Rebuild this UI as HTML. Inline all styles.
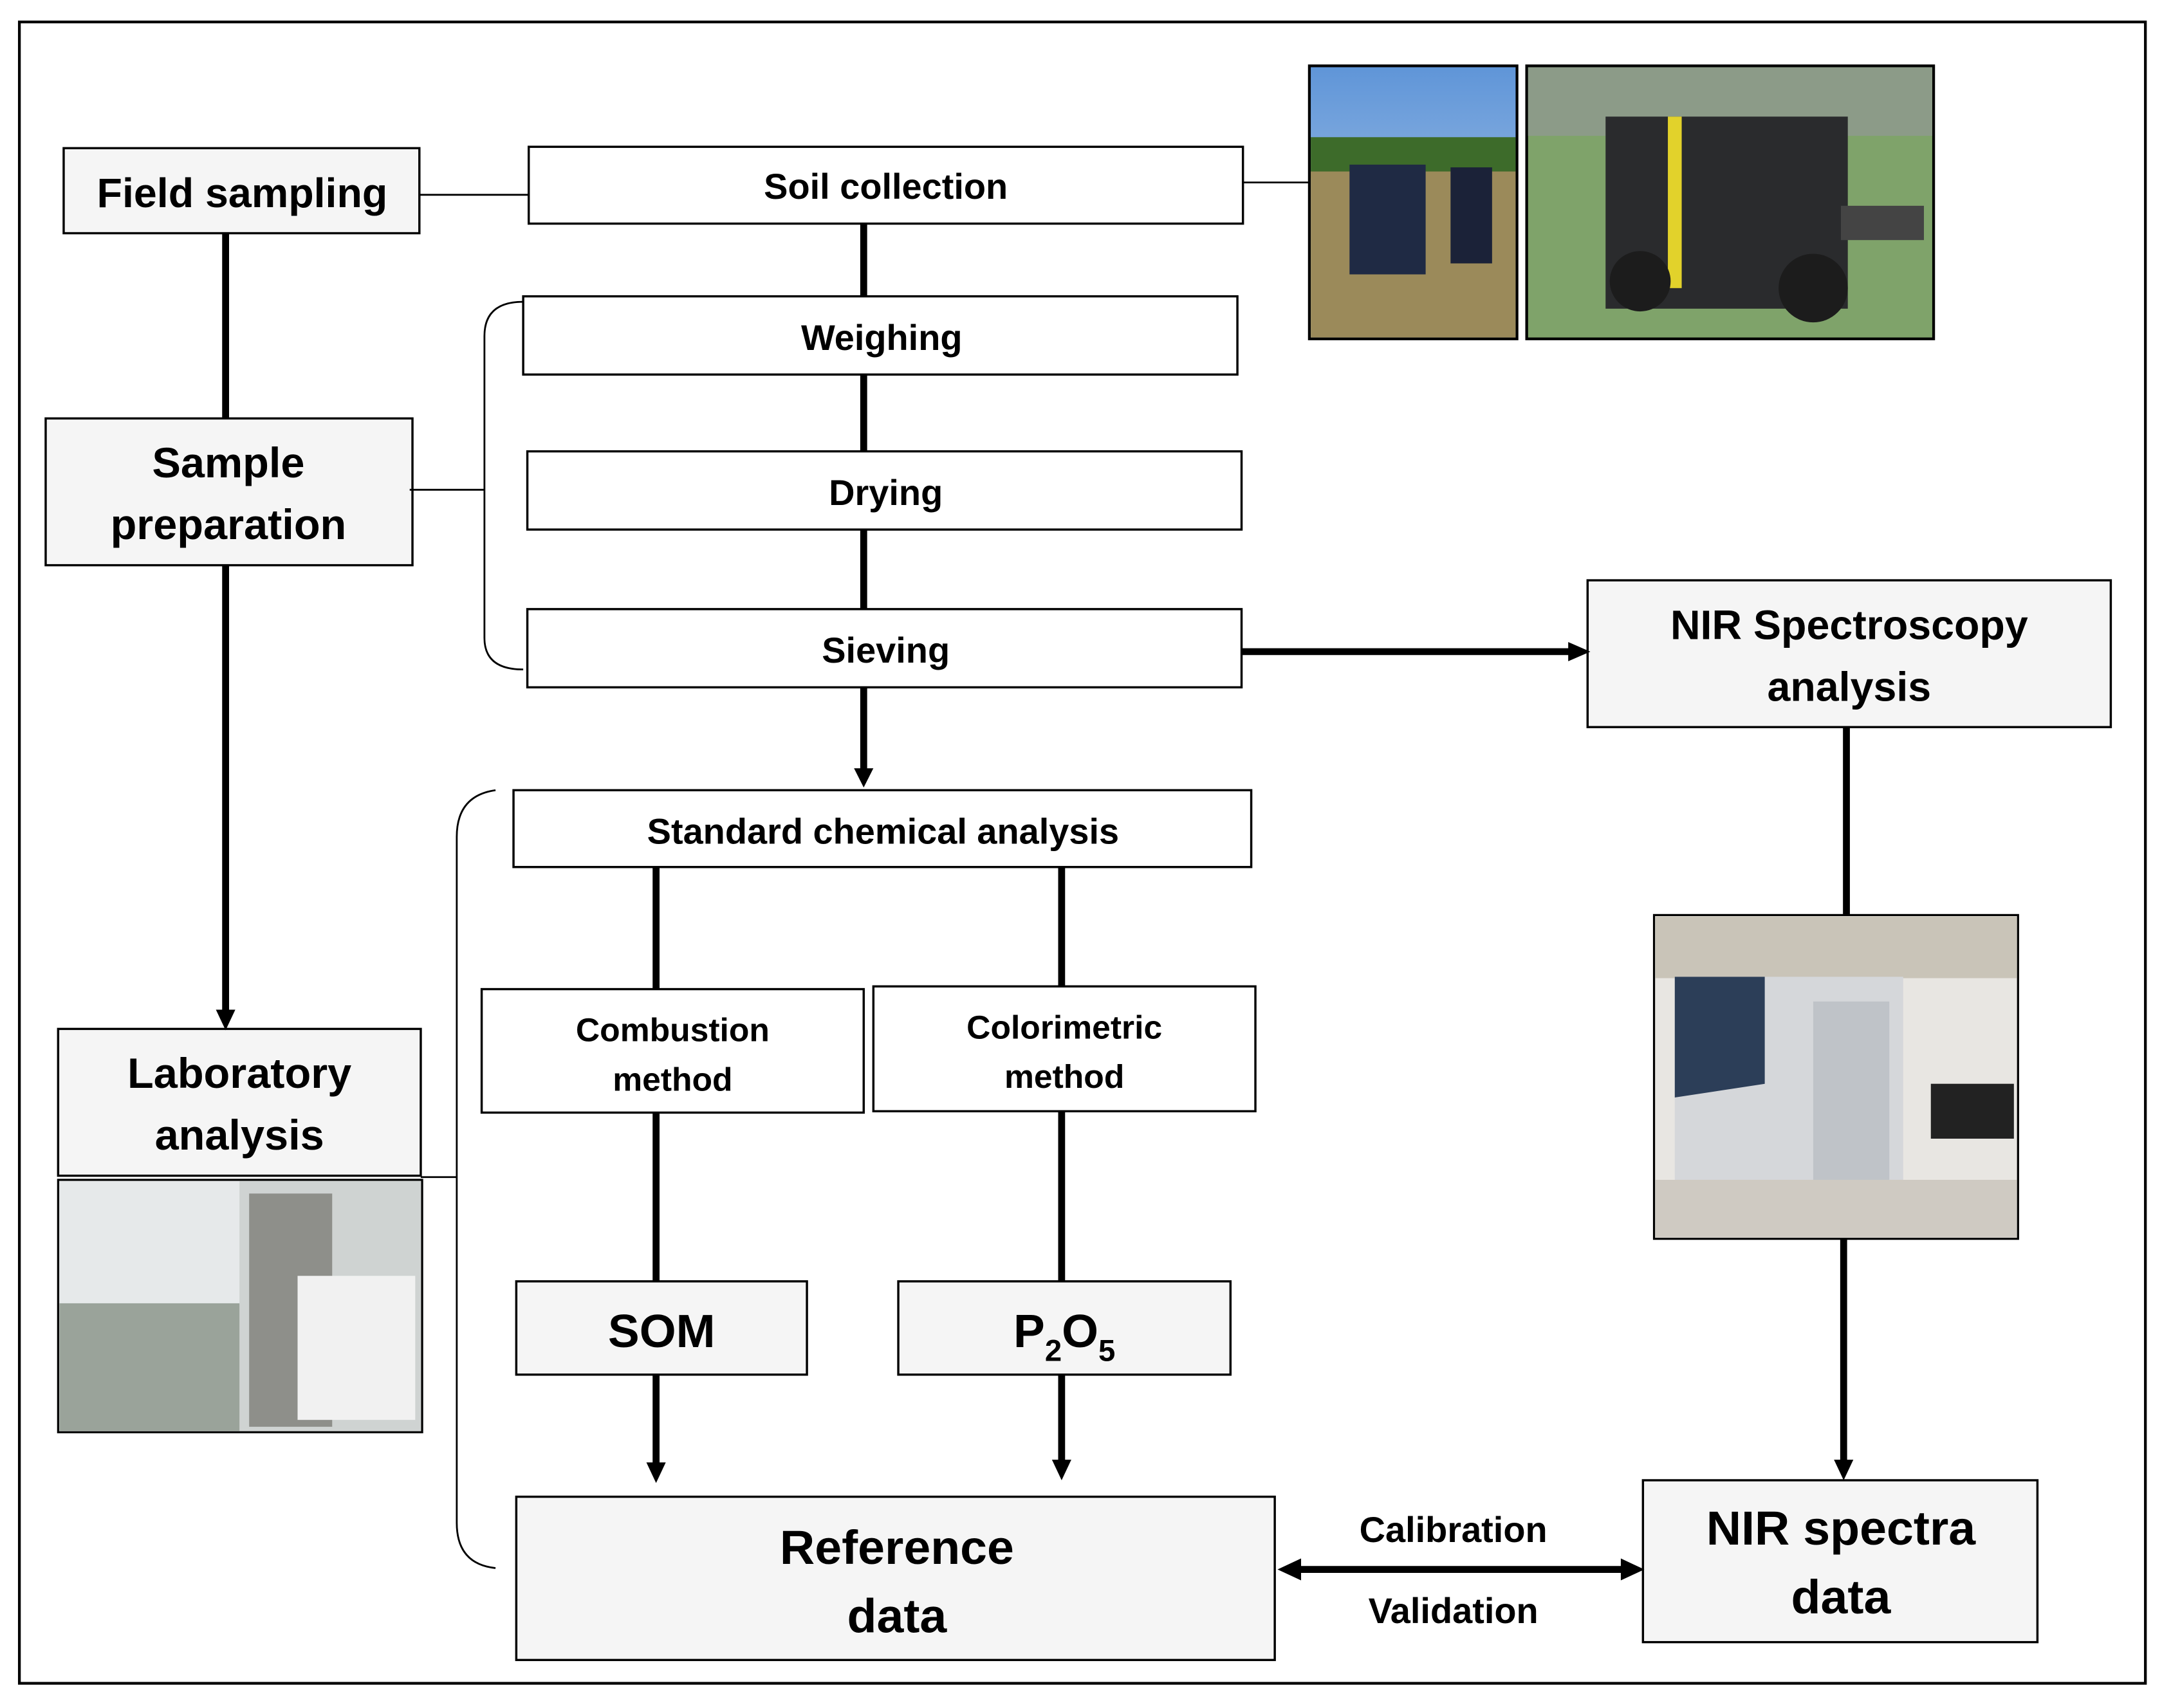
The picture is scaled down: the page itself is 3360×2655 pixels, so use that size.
<!DOCTYPE html>
<html><head><meta charset="utf-8"><style>
html,body{margin:0;padding:0;background:#fff;}
svg{display:block;}
text{font-family:"Liberation Sans",sans-serif;font-weight:bold;fill:#000;text-anchor:middle;}
</style></head><body>
<svg width="3360" height="2655" viewBox="0 0 1562 1245" preserveAspectRatio="none" xmlns="http://www.w3.org/2000/svg">
<defs>
<marker id="ah" markerWidth="14" markerHeight="14" refX="13" refY="7" orient="auto" markerUnits="userSpaceOnUse"><path d="M0,0 L14,7 L0,14 z" fill="#000"/></marker>
<marker id="ah2" markerWidth="18" markerHeight="16" refX="17" refY="8" orient="auto-start-reverse" markerUnits="userSpaceOnUse"><path d="M0,0 L18,8 L0,16 z" fill="#000"/></marker>
<linearGradient id="sky" x1="0" y1="0" x2="0" y2="1"><stop offset="0" stop-color="#5f95d8"/><stop offset="1" stop-color="#b9d0ea"/></linearGradient>
</defs>
<rect x="14" y="16" width="1536" height="1211" fill="none" stroke="#000" stroke-width="2"/>
<g stroke="#000" stroke-width="1.6">
<rect x="46" y="108" width="257" height="62" fill="#f5f5f5"/>
<rect x="382" y="107" width="516" height="56" fill="#fff"/>
<rect x="378" y="216" width="516" height="57" fill="#fff"/>
<rect x="381" y="329" width="516" height="57" fill="#fff"/>
<rect x="381" y="444" width="516" height="57" fill="#fff"/>
<rect x="33" y="305" width="265" height="107" fill="#f5f5f5"/>
<rect x="42" y="750" width="262" height="107" fill="#f5f5f5"/>
<rect x="1147" y="423" width="378" height="107" fill="#f5f5f5"/>
<rect x="371" y="576" width="533" height="56" fill="#fff"/>
<rect x="348" y="721" width="276" height="90" fill="#fff"/>
<rect x="631" y="719" width="276" height="91" fill="#fff"/>
<rect x="373" y="934" width="210" height="68" fill="#f5f5f5"/>
<rect x="649" y="934" width="240" height="68" fill="#f5f5f5"/>
<rect x="373" y="1091" width="548" height="119" fill="#f5f5f5"/>
<rect x="1187" y="1079" width="285" height="118" fill="#f5f5f5"/>
</g>
<g stroke="#000" stroke-width="1.3" fill="none">
<line x1="303" y1="142" x2="382" y2="142"/>
<line x1="898" y1="133" x2="946" y2="133"/>
<line x1="296" y1="357" x2="350" y2="357"/>
<path d="M378,220 Q350,220 350,245 L350,465 Q350,488 378,488"/>
<line x1="304" y1="858" x2="330" y2="858"/>
<path d="M358,576 Q330,580 330,610 L330,1110 Q330,1140 358,1143"/>
</g>
<g stroke="#000" stroke-width="5" fill="none">
<line x1="624" y1="163" x2="624" y2="216"/>
<line x1="624" y1="273" x2="624" y2="329"/>
<line x1="624" y1="386" x2="624" y2="444"/>
<line x1="624" y1="501" x2="624" y2="566"/>
<line x1="897" y1="475" x2="1135" y2="475"/>
<line x1="163" y1="170" x2="163" y2="305"/>
<line x1="163" y1="412" x2="163" y2="740"/>
<line x1="1334" y1="530" x2="1334" y2="667"/>
<line x1="1332" y1="903" x2="1332" y2="1068"/>
<line x1="474" y1="632" x2="474" y2="721"/>
<line x1="767" y1="632" x2="767" y2="719"/>
<line x1="474" y1="811" x2="474" y2="934"/>
<line x1="767" y1="810" x2="767" y2="934"/>
<line x1="474" y1="1002" x2="474" y2="1068"/>
<line x1="767" y1="1002" x2="767" y2="1066"/>
<line x1="935" y1="1144" x2="1176" y2="1144"/>
</g>
<g fill="#000">
<path d="M617,560 L631,560 L624,574 z"/>
<path d="M1133,468 L1149,475 L1133,482 z"/>
<path d="M156,736 L170,736 L163,751 z"/>
<path d="M1325,1064 L1339,1064 L1332,1079 z"/>
<path d="M467,1066 L481,1066 L474,1081 z"/>
<path d="M760,1064 L774,1064 L767,1079 z"/>
<path d="M923,1144 L940,1136 L940,1152 z"/>
<path d="M1188,1144 L1171,1136 L1171,1152 z"/>
</g>
<g>
<rect x="946" y="48" width="150" height="199" fill="url(#sky)" stroke="#000" stroke-width="2"/>
<rect x="947" y="100" width="148" height="30" fill="#3d6b2a"/>
<rect x="947" y="125" width="148" height="121" fill="#9b8a5a"/>
<rect x="975" y="120" width="55" height="80" fill="#1f2a44"/>
<rect x="1048" y="122" width="30" height="70" fill="#1b2238"/>
<rect x="1103" y="48" width="294" height="199" fill="#7fa36a" stroke="#000" stroke-width="2"/>
<rect x="1104" y="49" width="292" height="50" fill="#8c9b88"/>
<rect x="1160" y="85" width="175" height="140" fill="#2a2b2d"/>
<rect x="1330" y="150" width="60" height="25" fill="#444"/>
<rect x="1205" y="85" width="10" height="125" fill="#e2d22b"/>
<circle cx="1185" cy="205" r="22" fill="#1c1c1c"/>
<circle cx="1310" cy="210" r="25" fill="#1c1c1c"/>
<rect x="1195" y="667" width="263" height="236" fill="#e8e6e2" stroke="#000" stroke-width="1.5"/>
<rect x="1196" y="668" width="261" height="45" fill="#c9c4b8"/>
<rect x="1210" y="712" width="165" height="165" fill="#d5d7da"/>
<path d="M1210,712 L1275,712 L1275,790 L1210,800 z" fill="#2c3e58"/>
<rect x="1310" y="730" width="55" height="130" fill="#bfc3c8"/>
<rect x="1395" y="790" width="60" height="40" fill="#222"/>
<rect x="1196" y="860" width="261" height="42" fill="#cfcac2"/>
<rect x="42" y="860" width="263" height="184" fill="#cfd3d2" stroke="#000" stroke-width="1.5"/>
<rect x="43" y="861" width="130" height="90" fill="#e6e9ea"/>
<rect x="43" y="950" width="130" height="93" fill="#9aa39a"/>
<rect x="180" y="870" width="60" height="170" fill="#8e8f8a"/>
<rect x="215" y="930" width="85" height="105" fill="#f1f1f1"/>
</g>
<text x="175" y="151" font-size="30">Field sampling</text>
<text x="640" y="145" font-size="26">Soil collection</text>
<text x="637" y="255" font-size="26">Weighing</text>
<text x="640" y="368" font-size="26">Drying</text>
<text x="640" y="483" font-size="26">Sieving</text>
<text x="165" y="348" font-size="31">Sample</text>
<text x="165" y="393" font-size="31">preparation</text>
<text x="173" y="793" font-size="31">Laboratory</text>
<text x="173" y="838" font-size="31">analysis</text>
<text x="1336" y="466" font-size="30">NIR Spectroscopy</text>
<text x="1336" y="511" font-size="30">analysis</text>
<text x="638" y="615" font-size="26">Standard chemical analysis</text>
<text x="486" y="759" font-size="24">Combustion</text>
<text x="486" y="795" font-size="24">method</text>
<text x="769" y="757" font-size="24">Colorimetric</text>
<text x="769" y="793" font-size="24">method</text>
<text x="478" y="982" font-size="34">SOM</text>
<text x="769" y="982" font-size="34">P<tspan font-size="22" dy="10">2</tspan><tspan dy="-10">O</tspan><tspan font-size="22" dy="10">5</tspan></text>
<text x="648" y="1140" font-size="35">Reference</text>
<text x="648" y="1190" font-size="35">data</text>
<text x="1330" y="1126" font-size="35">NIR spectra</text>
<text x="1330" y="1176" font-size="35">data</text>
<text x="1050" y="1124" font-size="26">Calibration</text>
<text x="1050" y="1183" font-size="26">Validation</text>
</svg>
</body></html>
